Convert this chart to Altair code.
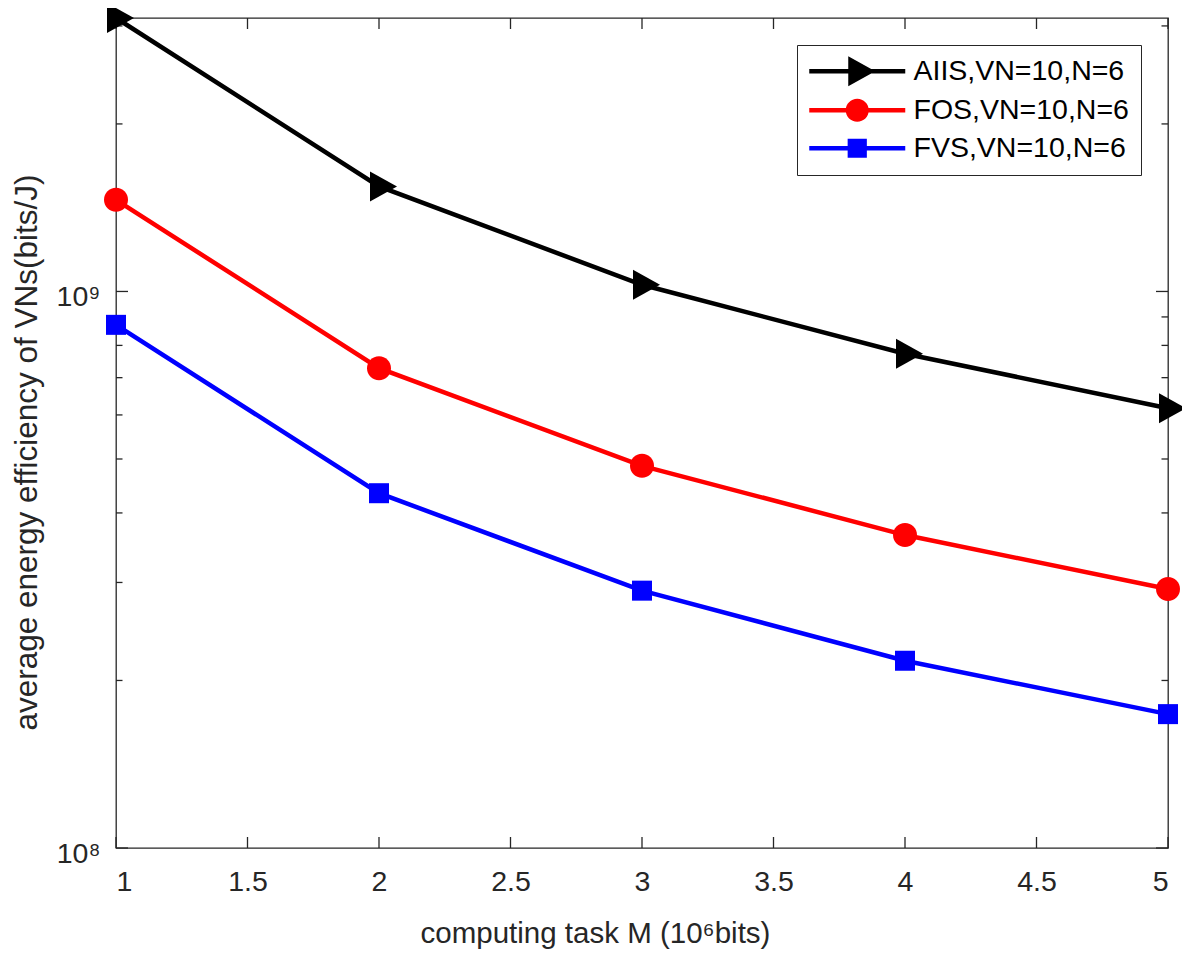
import altair as alt
import pandas as pd

# ---------------- data ----------------
task = [1, 2, 3, 4, 5]
aiis = [3.10e9, 1.544e9, 1.028e9, 7.73e8, 6.17e8]
fos = [1.461e9, 7.28e8, 4.86e8, 3.65e8, 2.92e8]
fvs = [8.71e8, 4.34e8, 2.90e8, 2.17e8, 1.74e8]

series_names = ["AIIS,VN=10,N=6", "FOS,VN=10,N=6", "FVS,VN=10,N=6"]
series_colors = ["#000000", "#FF0000", "#0000FF"]

x_ticks = [1, 1.5, 2, 2.5, 3, 3.5, 4, 4.5, 5]
y_major = [1e8, 1e9]
y_minor = [2e8, 3e8, 4e8, 5e8, 6e8, 7e8, 8e8, 9e8, 2e9, 3e9]

# ---------------- styling ----------------
W, H = 1052, 830
FONT = "Liberation Sans"
AX = "#262626"

tri = "M-0.6,-1L1.2,0L-0.6,1Z"
circ = "M-0.8,0A0.8,0.8 0 1,1 0.8,0A0.8,0.8 0 1,1 -0.8,0Z"
sq = "M-0.667,-0.667L0.667,-0.667L0.667,0.667L-0.667,0.667Z"
data_shapes = [tri, circ, sq]

bar = "M-4,-0.18L4,-0.18L4,0.18L-4,0.18Z"
leg_shapes = [
    bar + "M-0.75,-1.25L1.5,0L-0.75,1.25Z",
    bar + "M-0.96,0A0.96,0.96 0 1,1 0.96,0A0.96,0.96 0 1,1 -0.96,0Z",
    bar + "M-0.8,-0.8L0.8,-0.8L0.8,0.8L-0.8,0.8Z",
]

rows = []
for name, vals in zip(series_names, [aiis, fos, fvs]):
    for xv, yv in zip(task, vals):
        rows.append({"series": name, "x": xv, "y": yv})
df = pd.DataFrame(rows)

xscale = alt.Scale(domain=[1, 5], nice=False, zero=False)
yscale = alt.Scale(type="log", domain=[1e8, 3.1e9], nice=False)

xaxis = alt.Axis(
    values=x_ticks, format="~g", grid=False, domain=False, ticks=False,
    labelPadding=19, labelFontSize=28.5, labelFont=FONT, labelColor=AX,
    title="computing task M (10⁶bits)", titleFont=FONT, titleFontSize=29.5,
    titleFontWeight="normal", titleColor=AX, titleX=479, titleY=94,
    titleBaseline="alphabetic", titleAlign="center",
)
yaxis = alt.Axis(
    values=y_major, grid=False, domain=False, ticks=False,
    labelExpr="datum.value >= 5e8 ? '10⁹' : '10⁸'",
    labelPadding=16, labelOffset=5, labelFontSize=28.5, labelFont=FONT,
    labelColor=AX,
    title="average energy efficiency of VNs(bits/J)", titleFont=FONT,
    titleFontSize=31.5, titleFontWeight="normal", titleColor=AX,
    titleAngle=270, titleX=-80, titleY=434, titleBaseline="alphabetic",
    titleAlign="center",
)


def X(field="x"):
    return alt.X(f"{field}:Q", scale=xscale, axis=xaxis)


def Y(field="y"):
    return alt.Y(f"{field}:Q", scale=yscale, axis=yaxis)


color_scale = alt.Scale(domain=series_names, range=series_colors)
color_nolegend = alt.Color("series:N", scale=color_scale, legend=None)

leg = alt.Legend(
    title=None, orient="none", legendX=681, legendY=27, padding=12,
    symbolOffset=34, labelOffset=42, symbolSize=576, symbolStrokeWidth=0,
    symbolOpacity=1, labelFont=FONT, labelFontSize=28.5, labelColor="#000000",
    labelLimit=600, strokeColor=AX, fillColor="white", rowPadding=9,
)

# invisible layer that only carries the legend (placed first so its legend wins)
legend_layer = alt.Chart(df).mark_point(filled=True, opacity=0, size=576).encode(
    x=X(), y=Y(),
    color=alt.Color("series:N", scale=color_scale, legend=leg),
    shape=alt.Shape("series:N", scale=alt.Scale(domain=series_names, range=leg_shapes), legend=leg),
)

lines = alt.Chart(df).mark_line(strokeWidth=4.5).encode(
    x=X(), y=Y(), color=color_nolegend, order="x:Q"
)

point_layers = []
for name, shp in zip(series_names, data_shapes):
    point_layers.append(
        alt.Chart(df)
        .transform_filter(alt.datum.series == name)
        .mark_point(filled=True, size=900, opacity=1, shape=shp, strokeWidth=0)
        .encode(x=X(), y=Y(), color=color_nolegend)
    )

xt = pd.DataFrame({"x": x_ticks})
ymaj = pd.DataFrame({"y": y_major})
ymin = pd.DataFrame({"y": y_minor})
rule_style = dict(color=AX, strokeWidth=1.3)

ticks = [
    alt.Chart(xt).mark_rule(**rule_style).encode(x=X(), y=alt.value(H), y2=alt.value(H - 11)),
    alt.Chart(xt).mark_rule(**rule_style).encode(x=X(), y=alt.value(0), y2=alt.value(11)),
    alt.Chart(ymaj).mark_rule(**rule_style).encode(y=Y(), x=alt.value(0), x2=alt.value(12)),
    alt.Chart(ymaj).mark_rule(**rule_style).encode(y=Y(), x=alt.value(W), x2=alt.value(W - 12)),
    alt.Chart(ymin).mark_rule(**rule_style).encode(y=Y(), x=alt.value(0), x2=alt.value(6.5)),
    alt.Chart(ymin).mark_rule(**rule_style).encode(y=Y(), x=alt.value(W), x2=alt.value(W - 6.5)),
]

chart = (
    alt.layer(legend_layer, *ticks, lines, *point_layers)
    .properties(
        width=W, height=H,
        autosize=alt.AutoSizeParams(type="none"),
        padding={"left": 108, "top": 10, "right": 14, "bottom": 103},
        background="white",
    )
    .configure_view(stroke=AX, strokeWidth=1.3)
)

chart.save("out.html", embed_options={"renderer": "svg", "actions": False})
